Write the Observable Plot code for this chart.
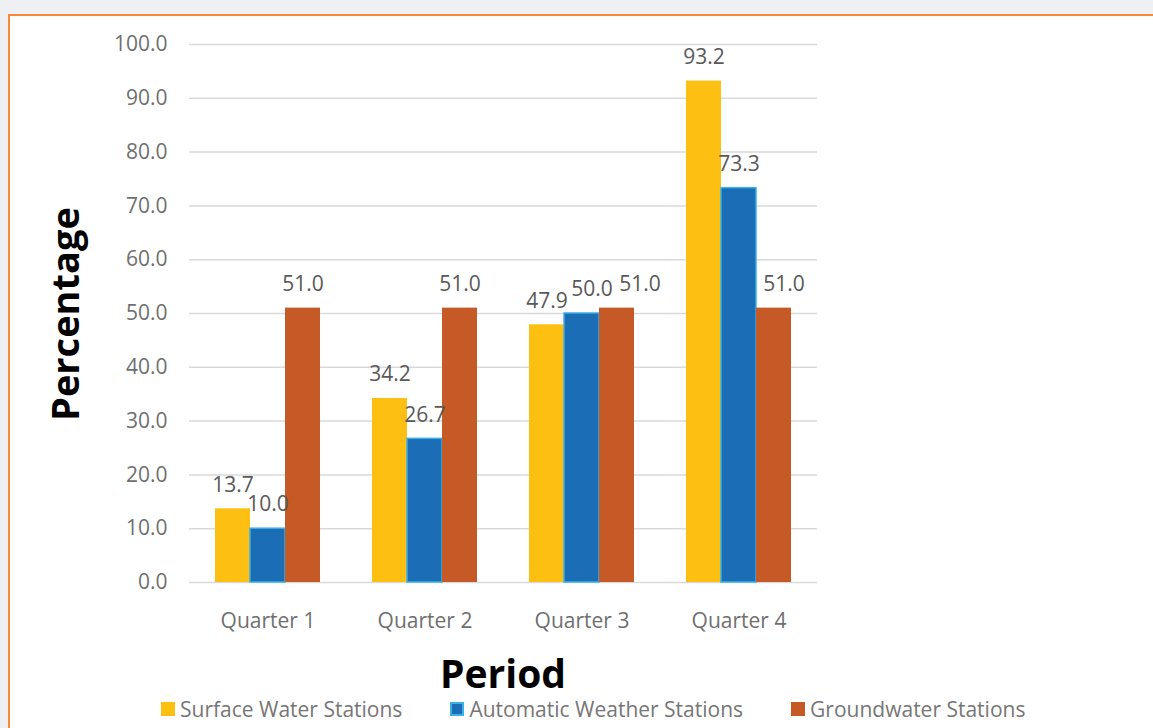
<!DOCTYPE html>
<html>
<head>
<meta charset="utf-8">
<script src="https://cdn.jsdelivr.net/npm/d3@7"></script>
<script src="https://cdn.jsdelivr.net/npm/@observablehq/plot@0.6"></script>
<style>
  html, body { margin: 0; padding: 0; }
  body { width: 1153px; height: 728px; overflow: hidden; background: #eff0f4; position: relative; font-family: "Open Sans", sans-serif; }
  #frame { position: absolute; left: 8px; top: 14px; width: 1200px; height: 800px; background: #fff; border: 2px solid #f58a3a; box-sizing: border-box; }
  #chart { position: absolute; left: 0; top: 0; }
  #ytitle { position: absolute; left: 64px; top: 314px; transform: translate(-50%, -50%) rotate(-90deg); font-weight: 700; font-size: 38px; line-height: 1; color: #000; white-space: nowrap; }
  #xtitle { position: absolute; left: 503px; top: 672px; transform: translate(-50%, -50%); font-weight: 700; font-size: 39px; line-height: 1; color: #000; white-space: nowrap; }
  #legend { position: absolute; left: 161px; top: 695px; display: flex; gap: 48px; font-size: 21px; color: #767676; white-space: nowrap; }
  .item { display: flex; align-items: center; gap: 5px; }
  .sw { width: 14px; height: 14px; box-sizing: border-box; }
</style>
</head>
<body>
<div id="frame"></div>
<div id="chart"></div>
<div id="ytitle">Percentage</div>
<div id="xtitle">Period</div>
<div id="legend"></div>
<script>
// ---- data ----
const quarters = ["Quarter 1", "Quarter 2", "Quarter 3", "Quarter 4"];
const seriesNames = ["Surface Water Stations", "Automatic Weather Stations", "Groundwater Stations"];
const surfaceWater = [13.7, 34.2, 47.9, 93.2];
const automaticWeather = [10.0, 26.7, 50.0, 73.3];
const groundwater = [51.0, 51.0, 51.0, 51.0];
const yTicks = [0, 10, 20, 30, 40, 50, 60, 70, 80, 90, 100];

// ---- styles ----
const fills = ["#fcbf12", "#1b6db5", "#c55a26"];
const strokes = ["none", "#3cb0e6", "none"];
// label nudges (px) reproducing the reference's label placement
const labelNudge = {"Quarter 3|Automatic Weather Stations": 10, "Quarter 3|Groundwater Stations": 23, "Quarter 4|Groundwater Stations": 10};

const seriesValues = [surfaceWater, automaticWeather, groundwater];
const rows = [];
quarters.forEach((q, i) => seriesNames.forEach((s, j) => rows.push({quarter: q, series: s, value: seriesValues[j][i], nudge: labelNudge[q + "|" + s] || 0})));

const barMarks = seriesNames.map((s, j) => Plot.barY(rows.filter(d => d.series === s), {
  fx: "quarter", x: "series", y: "value", fill: fills[j], stroke: strokes[j], strokeWidth: 1.5
}));
const nudges = [...new Set(rows.map(d => d.nudge))];
const labelMarks = nudges.map(n => Plot.text(rows.filter(d => d.nudge === n), {
  fx: "quarter", x: "series", y: "value", text: d => d.value.toFixed(1), dy: -24, dx: n,
  fontSize: 21, fill: "#595959"
}));

const plot = Plot.plot({
  width: 1153,
  height: 640,
  marginTop: 44,
  marginBottom: 58,
  marginLeft: 188,
  marginRight: 336,
  style: {fontSize: "21px", fontFamily: "Open Sans, sans-serif", color: "#6f6f6f", background: "transparent"},
  fx: {domain: quarters, padding: 0, axis: "bottom", tickSize: 0, tickPadding: 31, label: null},
  x: {domain: seriesNames, paddingInner: 0, paddingOuter: 0.7, axis: null},
  y: {domain: [0, 100], ticks: yTicks, tickFormat: d => d.toFixed(1), tickSize: 0, tickPadding: 22, label: null},
  marks: [
    Plot.ruleY(yTicks, {stroke: "#d9d9d9", strokeWidth: 1.5}),
    ...barMarks,
    ...labelMarks
  ]
});
document.getElementById("chart").appendChild(plot);

// ---- legend ----
const legend = document.getElementById("legend");
seriesNames.forEach((s, j) => {
  const item = document.createElement("div");
  item.className = "item";
  const sw = document.createElement("span");
  sw.className = "sw";
  sw.style.background = fills[j];
  if (strokes[j] !== "none") sw.style.border = "2px solid " + strokes[j];
  const t = document.createElement("span");
  t.textContent = s;
  item.appendChild(sw);
  item.appendChild(t);
  legend.appendChild(item);
});
</script>
</body>
</html>
